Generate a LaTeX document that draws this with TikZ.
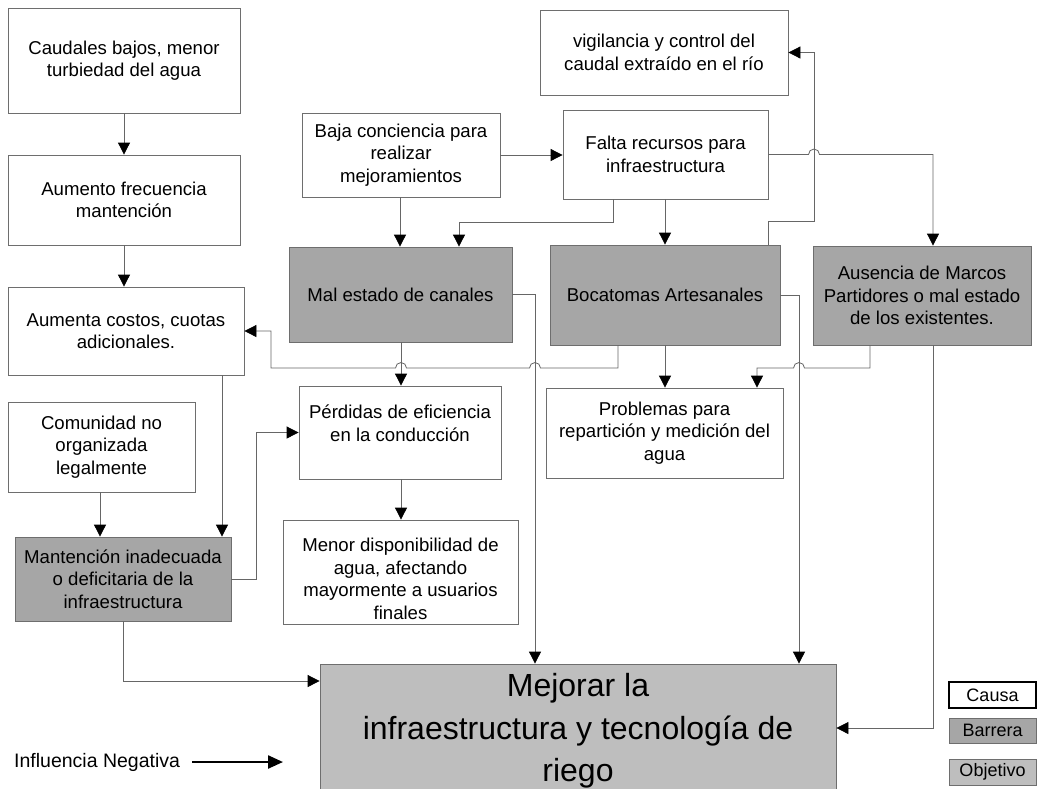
\documentclass[tikz,border=0pt]{standalone}
\usepackage{fontspec}
\setmainfont{Liberation Sans}
\usetikzlibrary{arrows.meta}
\definecolor{barfill}{HTML}{A6A6A6}
\definecolor{objfill}{HTML}{BEBEBE}
\definecolor{edge}{HTML}{6E6E6E}
\definecolor{wire}{HTML}{666666}

\begin{document}
\begin{tikzpicture}[x=1pt,y=-1pt,
  every node/.style={font=\fontsize{18.6}{22.5}\selectfont, align=center, inner sep=0pt},
  cause/.style={draw=edge, line width=0.8pt, fill=white},
  barrier/.style={draw=edge, line width=0.8pt, fill=barfill},
  goal/.style={draw=edge, line width=0.8pt, fill=objfill},
  conn/.style={draw=wire, line width=0.8pt, -{Triangle[length=12pt,width=12pt,color=black]}},
  small/.style={font=\fontsize{18}{20}\selectfont},
  hop/.style={radius=5.5pt}
]
\useasboundingbox (0,0) rectangle (1041,788);

% ---------- causes (white) ----------
\node[cause, minimum width=232pt, minimum height=105pt] (caud) at (124,60.5)
  {Caudales bajos, menor\\turbiedad del agua};
\node[cause, minimum width=232pt, minimum height=90pt] (aum) at (124,200)
  {Aumento frecuencia\\mantención};
\node[cause, minimum width=236pt, minimum height=88pt] (cost) at (126,331)
  {Aumenta costos, cuotas\\adicionales.};
\node[cause, minimum width=187pt, minimum height=90pt] (comu) at (101.5,447)
  {Comunidad no\\organizada\\legalmente};
\node[cause, minimum width=248pt, minimum height=85pt] (vigi) at (664,52.5)
  {vigilancia y control del\\caudal extraído en el río};
\node[cause, minimum width=198pt, minimum height=84pt] (baja) at (401,155)
  {Baja conciencia para\\realizar\\mejoramientos};
\node[cause, minimum width=205pt, minimum height=89pt] (falta) at (665.5,154.5)
  {Falta recursos para\\infraestructura};
\node[cause, minimum width=202pt, minimum height=93pt] (perd) at (400,432.5) {};
\node (perdT) at (400,423) {Pérdidas de eficiencia\\en la conducción};
\node[cause, minimum width=237pt, minimum height=90pt] (prob) at (664.5,433)
  {Problemas para\\repartición y medición del\\agua};
\node[cause, minimum width=235pt, minimum height=104pt] (menor) at (400.5,572) {};
\node (menorT) at (400.5,579)
  {Menor disponibilidad de\\agua, afectando\\mayormente a usuarios\\finales};

% ---------- barriers (grey) ----------
\node[barrier, minimum width=216pt, minimum height=84pt] (mant) at (123,579)
  {Mantención inadecuada\\o deficitaria de la\\infraestructura};
\node[barrier, minimum width=223pt, minimum height=95pt] (mal) at (400.5,294.5)
  {Mal estado de canales};
\node[barrier, minimum width=230pt, minimum height=100pt] (boca) at (665,295)
  {Bocatomas Artesanales};
\node[barrier, minimum width=218pt, minimum height=99pt] (ause) at (922,295.5)
  {Ausencia de Marcos\\Partidores o mal estado\\de los existentes.};

% ---------- objective ----------
\node[goal, minimum width=516pt, minimum height=126pt] (obj) at (578,727) {};
\node[font=\fontsize{32}{42.5}\selectfont] (objT) at (578,731)
  {Mejorar la\\infraestructura y tecnología de\\riego};

% ---------- connectors ----------
\draw[conn] (124,0 |- caud.south) -- (124,0 |- aum.north);
\draw[conn] (124,0 |- aum.south) -- (124,0 |- cost.north);
\draw[conn] (222,0 |- cost.south) -- (222,0 |- mant.north);
\draw[conn] (100,0 |- comu.south) -- (100,0 |- mant.north);
\draw[conn] (mant.east) -- (256,579) -- (256,432.5) -- (perd.west);
\draw[conn] (123,0 |- mant.south) -- (123,681) -- (123,681 -| obj.west);

\draw[conn] (baja.east) -- (baja.east -| falta.west);
\draw[conn] (400,0 |- baja.south) -- (400,0 |- mal.north);
\draw[conn] (613,0 |- falta.south) -- (613,222) -- (459,222) -- (459,0 |- mal.north);
\draw[conn] (665,0 |- falta.south) -- (665,0 |- boca.north);
\draw[conn] (falta.east) -- (808.5,154.5) arc[start angle=180, end angle=0, hop]
  -- (933,154.5) -- (933,0 |- ause.north);
\draw[conn] (768,0 |- boca.north) -- (768,221) -- (814,221) -- (814,52.5) -- (vigi.east);

\draw[conn] (401,0 |- mal.south) -- (401,0 |- perd.north);
\draw[conn] (mal.east) -- (535,294.5) -- (535,0 |- obj.north);
\draw[conn] (618,0 |- boca.south) -- (618,368)
  -- (540.5,368) arc[start angle=0, end angle=180, hop]
  -- (406.5,368) arc[start angle=0, end angle=180, hop]
  -- (271,368) -- (271,331) -- (cost.east);
\draw[conn] (665,0 |- boca.south) -- (665,0 |- prob.north);
\draw[conn] (boca.east) -- (799,295) -- (799,0 |- obj.north);
\draw[conn] (870,0 |- ause.south) -- (870,368)
  -- (804.5,368) arc[start angle=0, end angle=180, hop]
  -- (757,368) -- (757,0 |- prob.north);
\draw[conn] (933,0 |- ause.south) -- (933,728) -- (933,728 -| obj.east);
\draw[conn] (401,0 |- perd.south) -- (401,0 |- menor.north);

% ---------- legend ----------
\node[small, draw=black, line width=1.8pt, fill=white, minimum width=87pt, minimum height=26pt]
  (legC) at (992.5,695) {Causa};
\node[small, barrier, minimum width=87pt, minimum height=25pt]
  (legB) at (992.5,730.5) {Barrera};
\node[small, goal, minimum width=87pt, minimum height=26pt]
  (legO) at (992.5,772) {Objetivo};

\node[font=\fontsize{19.5}{22}\selectfont, anchor=west] (infl) at (14,762) {Influencia Negativa};
\coordinate (inflEnd) at (283,762);
\draw[line width=2.4pt, -{Triangle[length=15pt,width=13pt]}]
  ([xshift=12pt]infl.east) -- (inflEnd);
\end{tikzpicture}
\end{document}
